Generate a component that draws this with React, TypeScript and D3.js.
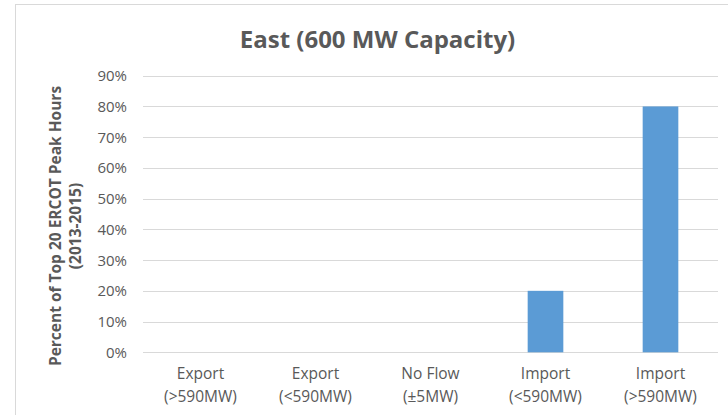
import React from "react";
import * as d3 from "d3";

const categories = ["Export|(>590MW)", "Export|(<590MW)", "No Flow|(±5MW)", "Import|(<590MW)", "Import|(>590MW)"];
const values = [0, 0, 0, 0.2, 0.8];
const yTicks = [0, 0.1, 0.2, 0.3, 0.4, 0.5, 0.6, 0.7, 0.8, 0.9];
const titleText = "East (600 MW Capacity)";
const yTitleLines = ["Percent of Top 20 ERCOT Peak Hours", "(2013-2015)"];

const W = 728;
const H = 415;
const FONT = "'Open Sans', 'DejaVu Sans', sans-serif";
const TEXT = "#595959";
const GRID = "#D9D9D9";
const BAR = "#5B9BD5";

export default function App() {
  const x = d3.scaleBand<string>().domain(categories).range([143, 718]).paddingInner(0.69).paddingOuter(0.345);
  const y = d3.scaleLinear().domain([0, 0.9]).range([352.3, 75.7]);
  const fmt = d3.format(".0%");
  const crisp = (v: number) => Math.round(v) + 0.5;

  return (
    <div style={{ position: "absolute", left: 0, top: 0 }}>
      <svg width={W} height={H} style={{ display: "block", background: "#fff" }}>
        <rect x={15.5} y={4.5} width={W} height={H} fill="#fff" stroke={GRID} strokeWidth={1} />
        <text x={377.5} y={48} textAnchor="middle" fontFamily={FONT} fontWeight={700} fontSize={24} fill={TEXT}>
          {titleText}
        </text>
        {yTicks.map((t) => (
          <g key={t}>
            <line x1={143} x2={718} y1={crisp(y(t))} y2={crisp(y(t))} stroke={GRID} strokeWidth={1} />
            <text x={127} y={y(t)} dy="0.36em" textAnchor="end" fontFamily={FONT} fontSize={15} fill={TEXT}>
              {fmt(t)}
            </text>
          </g>
        ))}
        {categories.map((c, i) => (
          <rect key={c} x={x(c)} y={y(values[i])} width={x.bandwidth()} height={y(0) - y(values[i])} fill={BAR} />
        ))}
        {categories.map((c) => {
          const cx = (x(c) as number) + x.bandwidth() / 2;
          const [l1, l2] = c.split("|");
          return (
            <text key={c} textAnchor="middle" fontFamily={FONT} fontSize={15.5} fill={TEXT}>
              <tspan x={cx} y={379}>{l1}</tspan>
              <tspan x={cx} y={402}>{l2}</tspan>
            </text>
          );
        })}
        <g transform="translate(0,226) rotate(-90)">
          <text textAnchor="middle" fontFamily={FONT} fontWeight={700} fontSize={15.5} fill={TEXT}>
            <tspan x={0} y={61}>{yTitleLines[0]}</tspan>
            <tspan x={0} y={81}>{yTitleLines[1]}</tspan>
          </text>
        </g>
      </svg>
    </div>
  );
}
